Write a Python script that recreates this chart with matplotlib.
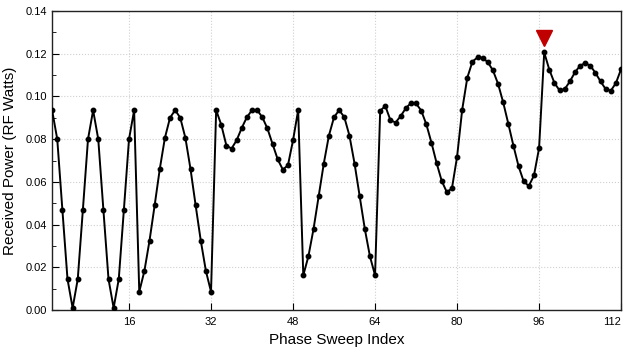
import numpy as np
import matplotlib
matplotlib.use('Agg')
import matplotlib.pyplot as plt
from matplotlib.ticker import MultipleLocator, FormatStrFormatter

# received power per phase step
power_1 = [0.0935, 0.080, 0.047, 0.0145, 0.001, 0.0145, 0.047, 0.080, 0.0935,
           0.080, 0.047, 0.0145, 0.001, 0.0145, 0.047, 0.080, 0.0935]
power_2 = [0.0086, 0.0183, 0.0325, 0.049, 0.066, 0.0806, 0.090, 0.0936, 0.090,
           0.0806, 0.066, 0.049, 0.0325, 0.0183, 0.0086]
power_3 = [0.0936, 0.0867, 0.077, 0.0756, 0.0795, 0.0853, 0.0903, 0.0936, 0.0936,
           0.0903, 0.085, 0.0778, 0.0706, 0.0658, 0.0677, 0.0795, 0.0936]
power_4 = [0.0163, 0.0252, 0.038, 0.0533, 0.0686, 0.0817, 0.0903, 0.0936, 0.0903,
           0.0817, 0.0686, 0.0533, 0.038, 0.0252, 0.0163]
power_5 = [0.0933, 0.0955, 0.0889, 0.0878, 0.0908, 0.0945, 0.0969, 0.0967, 0.0934,
           0.087, 0.0784, 0.0689, 0.0605, 0.0552, 0.057, 0.0717, 0.0938, 0.1088,
           0.1163, 0.1183, 0.1181, 0.116, 0.1122, 0.1059, 0.0972, 0.0872, 0.0769,
           0.0673, 0.0602, 0.0581, 0.063, 0.0758, 0.1206, 0.1125, 0.1063, 0.1028,
           0.1034, 0.107, 0.1113, 0.1144, 0.1156, 0.1144, 0.111, 0.107, 0.1034,
           0.1027, 0.1063, 0.1128]
power = power_1 + power_2 + power_3 + power_4 + power_5
index = np.arange(1, len(power) + 1)

# best index gets a red marker above it
best_index = 97
best_marker_y = 0.1274

xticks = [16, 32, 48, 64, 80, 96, 112]

plt.rcParams['font.family'] = ['Liberation Sans', 'DejaVu Sans']

fig = plt.figure(figsize=(6.28, 3.54), dpi=100)
ax = fig.add_axes([0.083, 0.124, 0.906, 0.845])

ax.plot(index, power, color='black', lw=1.4, marker='o', ms=3.2, zorder=3)
ax.plot([best_index], [best_marker_y], marker='v', color='#c00000', ms=11,
        ls='none', zorder=4, clip_on=False)

ax.set_xlim(1, 112)
ax.set_ylim(0, 0.14)
ax.set_xticks(xticks)
ax.yaxis.set_major_locator(MultipleLocator(0.02))
ax.yaxis.set_minor_locator(MultipleLocator(0.01))
ax.yaxis.set_major_formatter(FormatStrFormatter('%.2f'))
ax.tick_params(which='both', direction='in', labelsize=8, color='black')
ax.tick_params(which='major', length=5)
ax.tick_params(which='minor', length=3)
ax.tick_params(axis='x', pad=5)
# last label sits inside the figure edge, like the reference
ax.get_xticklabels()[-1].set_horizontalalignment('right')
ax.grid(True, which='major', color='#d0d0d0', ls=':', lw=0.8)
for s in ax.spines.values():
    s.set_linewidth(1.0)
    s.set_color('#222222')

ax.set_xlabel('Phase Sweep Index', fontsize=11, labelpad=4)
ax.set_ylabel('Received Power (RF Watts)', fontsize=11, labelpad=6)

fig.savefig('out.png', dpi=100)
